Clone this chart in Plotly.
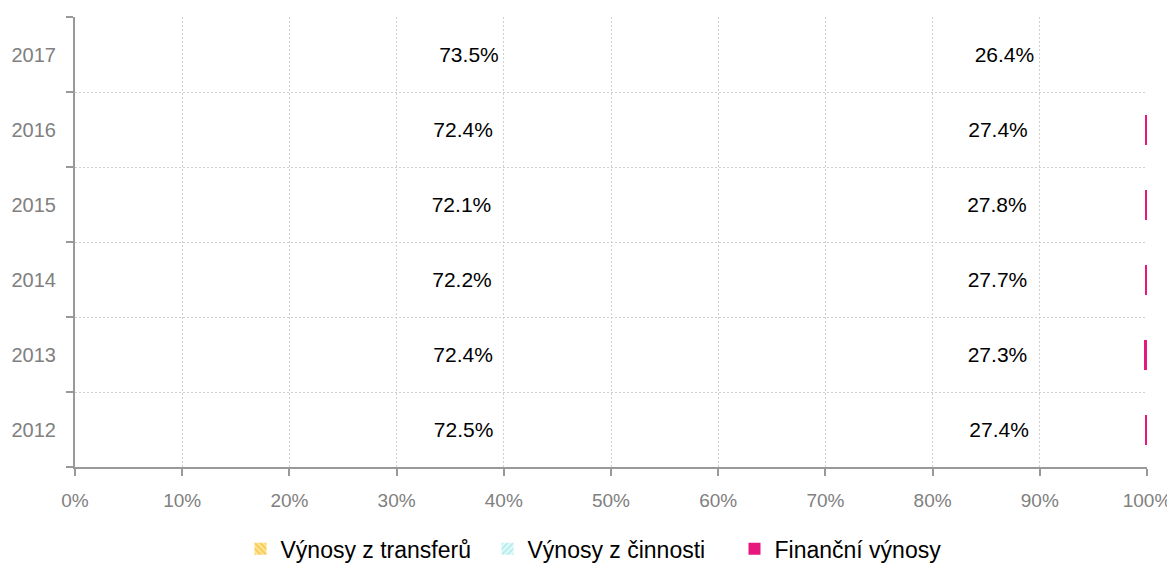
import plotly.graph_objects as go

years = ["2012", "2013", "2014", "2015", "2016", "2017"]
transfery = [72.5, 72.4, 72.2, 72.1, 72.4, 73.5]
cinnost = [27.4, 27.3, 27.7, 27.8, 27.4, 26.4]
financni = [0.1, 0.3, 0.1, 0.1, 0.2, 0.0]
series_names = ["Výnosy z transferů", "Výnosy z činnosti", "Finanční výnosy"]
x_ticks = list(range(0, 101, 10))

FONT = "Liberation Sans, Arial, sans-serif"

fig = go.Figure()

# data bars (fill pattern not rendered in reference -> transparent)
fig.add_trace(go.Bar(
    y=years, x=transfery, orientation="h", name=series_names[0],
    marker=dict(color="rgba(0,0,0,0)", line=dict(width=0)),
    text=[f"{v:.1f}%" for v in transfery], textposition="inside",
    insidetextanchor="middle", textfont=dict(color="black", size=21, family=FONT),
    showlegend=False, hoverinfo="x+y"))
fig.add_trace(go.Bar(
    y=years, x=cinnost, orientation="h", name=series_names[1],
    marker=dict(color="rgba(0,0,0,0)", line=dict(width=0)),
    text=[f"{v:.1f}%" for v in cinnost], textposition="inside",
    insidetextanchor="middle", textfont=dict(color="black", size=21, family=FONT),
    showlegend=False, hoverinfo="x+y"))
fig.add_trace(go.Bar(
    y=years, x=financni, orientation="h", name=series_names[2],
    marker=dict(color="#e8177d", line=dict(width=0)),
    showlegend=False, hoverinfo="x+y"))

# legend entries
fig.add_trace(go.Bar(y=[None], x=[None], orientation="h", name=series_names[0],
                     marker=dict(color="white", line=dict(width=0),
                                 pattern=dict(shape="\\", fgcolor="#f5b000", bgcolor="#fde9a8", size=5, solidity=0.6))))
fig.add_trace(go.Bar(y=[None], x=[None], orientation="h", name=series_names[1],
                     marker=dict(color="white", line=dict(width=0),
                                 pattern=dict(shape="/", fgcolor="#7fe0e0", bgcolor="#e6fafa", size=5, solidity=0.5))))
fig.add_trace(go.Bar(y=[None], x=[None], orientation="h", name=series_names[2],
                     marker=dict(color="#e8177d", line=dict(width=0))))

fig.update_layout(
    barmode="stack", bargap=0.6,
    width=1175, height=580,
    margin=dict(l=67, r=36, t=9, b=121),
    plot_bgcolor="white", paper_bgcolor="white",
    font=dict(family=FONT, size=19, color="#808080"),
    legend=dict(orientation="h", x=0.5, xanchor="center", y=-0.182, yanchor="middle",
                font=dict(size=23, color="black", family=FONT), traceorder="normal",
                itemwidth=30, entrywidth=202),
    xaxis=dict(range=[0, 100], tickvals=x_ticks, ticktext=[f"{v}%" for v in x_ticks],
               showgrid=True, gridcolor="#d0d0d0", griddash="2px,2px", gridwidth=1,
               showline=True, linecolor="#999999", linewidth=2,
               ticks="outside", ticklen=7, tickcolor="#999999", tickwidth=2,
               tickfont=dict(size=19, color="#808080"), ticklabelstandoff=8,
               zeroline=False, automargin=False),
    yaxis=dict(categoryorder="array", categoryarray=years,
               tickson="boundaries", showgrid=True, gridcolor="#d0d0d0", griddash="2px,2px",
               showline=True, linecolor="#999999", linewidth=2,
               ticks="outside", ticklen=7, tickcolor="#999999", tickwidth=2,
               tickfont=dict(size=20, color="#808080"), ticklabelstandoff=13, automargin=False),
)

fig.write_html("out.html")
